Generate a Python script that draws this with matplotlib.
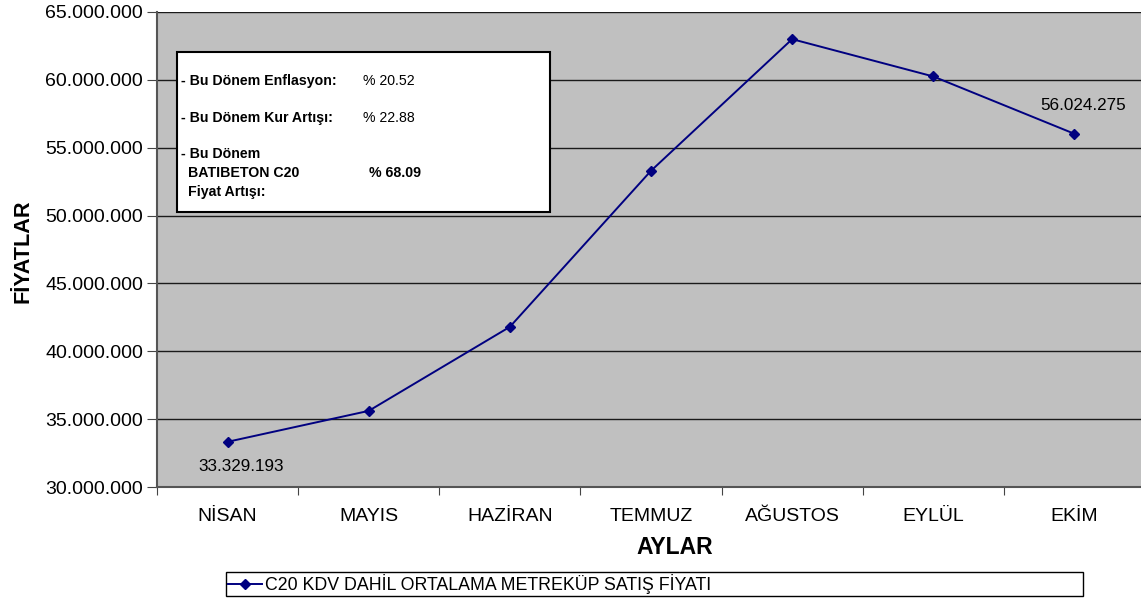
import matplotlib
matplotlib.use("Agg")
import matplotlib.pyplot as plt
from matplotlib.patches import Rectangle
from matplotlib.ticker import FuncFormatter, FixedLocator

plt.rcParams["font.family"] = ["Liberation Sans", "DejaVu Sans"]

months = ["NİSAN", "MAYIS", "HAZİRAN", "TEMMUZ", "AĞUSTOS", "EYLÜL", "EKİM"]
prices = [33329193, 35610000, 41800000, 53300000, 63000000, 60250000, 56024275]
series_name = "C20 KDV DAHİL ORTALAMA METREKÜP SATIŞ FİYATI"

info_labels = ["- Bu Dönem Enflasyon:", "- Bu Dönem Kur Artışı:"]
info_values = ["% 20.52", "% 22.88"]
c20_value = "% 68.09"

W, H = 1141, 603


def px(x, y):
    # pixel coords (from top-left) -> figure fraction
    return x / W, 1 - y / H


fig = plt.figure(figsize=(W / 100, H / 100), dpi=100)
ax = fig.add_axes([157 / W, 1 - 487 / H, 988 / W, 475 / H])
ax.set_facecolor("#C0C0C0")

x = list(range(len(months)))
line, = ax.plot(x, prices, color="#000080", lw=1.4, marker="D", ms=5,
                label=series_name, zorder=3)

ax.set_xlim(-0.5, len(months) - 0.5)
ax.set_ylim(30_000_000, 65_000_000)
ax.set_yticks(range(30_000_000, 65_000_001, 5_000_000))
ax.yaxis.set_major_formatter(FuncFormatter(lambda v, p: f"{int(v):,}".replace(",", ".")))
ax.grid(axis="y", color="#1a1a1a", lw=1)
ax.set_axisbelow(True)

# category ticks at boundaries, labels centered
ax.xaxis.set_major_locator(FixedLocator([i - 0.5 for i in range(len(months) + 1)]))
ax.xaxis.set_minor_locator(FixedLocator(x))
ax.set_xticklabels([])
ax.set_xticklabels(months, minor=True)
ax.tick_params(axis="x", which="major", length=6, direction="out", color="#444444")
ax.tick_params(axis="x", which="minor", length=0, pad=15, labelsize=14)
ax.tick_params(axis="y", length=7, direction="out", color="#444444", pad=3, labelsize=14)

for s in ["top", "right"]:
    ax.spines[s].set_visible(False)
for s in ["left", "bottom"]:
    ax.spines[s].set_color("#555555")
    ax.spines[s].set_linewidth(1.5)

# data labels
ax.annotate(f"{prices[0]:,}".replace(",", "."), (x[0], prices[0]),
            xytext=(14, -25), textcoords="offset pixels",
            ha="center", va="center", fontsize=12.3)
ax.annotate(f"{prices[-1]:,}".replace(",", "."), (x[-1], prices[-1]),
            xytext=(9, 28), textcoords="offset pixels",
            ha="center", va="center", fontsize=12.3)

# axis titles
fig.text(*px(675, 547), "AYLAR", ha="center", va="center",
         fontsize=16.5, fontweight="bold")
fig.text(*px(23, 251), "FİYATLAR", ha="center", va="center",
         rotation=90, fontsize=15.6, fontweight="bold")

# info box
bx0, by0 = px(177, 212)
bx1, by1 = px(550, 52)
fig.add_artist(Rectangle((bx0, by0), bx1 - bx0, by1 - by0, transform=fig.transFigure,
                         facecolor="white", edgecolor="black", lw=1.5, zorder=5))
fs = 10.2
for i, (lab, val) in enumerate(zip(info_labels, info_values)):
    yy = 81 + i * 37
    fig.text(*px(181, yy), lab, ha="left", va="center", fontsize=fs,
             fontweight="bold", zorder=6)
    fig.text(*px(363, yy), val, ha="left", va="center", fontsize=fs, zorder=6)
fig.text(*px(181, 154), "- Bu Dönem", ha="left", va="center", fontsize=fs,
         fontweight="bold", zorder=6)
fig.text(*px(188, 173), "BATIBETON C20", ha="left", va="center", fontsize=fs,
         fontweight="bold", zorder=6)
fig.text(*px(188, 192), "Fiyat Artışı:", ha="left", va="center", fontsize=fs,
         fontweight="bold", zorder=6)
fig.text(*px(369, 173), c20_value, ha="left", va="center", fontsize=fs,
         fontweight="bold", zorder=6)

# legend
lx0, ly0 = px(226, 597)
lx1, ly1 = px(1083, 571)
fig.legend(handles=[line], loc="center left",
           bbox_to_anchor=(lx0, ly0, lx1 - lx0, ly1 - ly0), mode="expand",
           fancybox=False, framealpha=1, edgecolor="black", fontsize=12.8,
           handlelength=1.9, handletextpad=0.2, borderpad=0.1,
           borderaxespad=0)

fig.savefig("out.png", dpi=100, facecolor="white")
